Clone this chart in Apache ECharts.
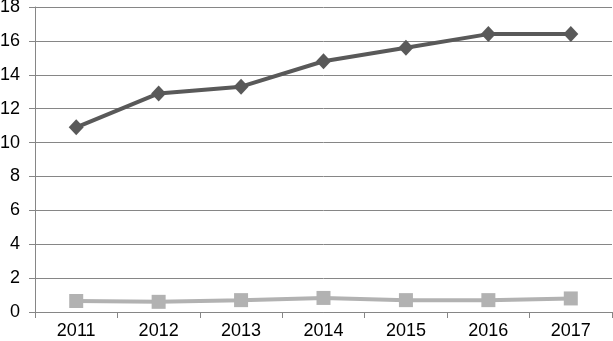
<!DOCTYPE html>
<html><head><meta charset="utf-8">
<script src="https://cdn.jsdelivr.net/npm/echarts@6/dist/echarts.min.js"></script>
<style>html,body{margin:0;padding:0;background:#fff}#c{width:613px;height:341px}</style>
</head><body><div id="c"></div>
<script>
var categories = ['2011','2012','2013','2014','2015','2016','2017'];
var seriesA = [10.9, 12.9, 13.3, 14.8, 15.6, 16.4, 16.4];
var seriesB = [0.65, 0.6, 0.7, 0.83, 0.7, 0.7, 0.8];
var yTicks = {min: 0, max: 18, interval: 2};

var chart = echarts.init(document.getElementById('c'), null, {renderer: 'canvas'});
chart.setOption({
  animation: false,
  backgroundColor: '#fff',
  grid: {left: 35, right: 1, top: 7, bottom: 29, containLabel: false, outerBoundsMode: 'none'},
  xAxis: {
    type: 'category', data: categories, boundaryGap: true,
    axisLine: {lineStyle: {color: '#868686', width: 1}},
    axisTick: {show: true, length: 6, lineStyle: {color: '#868686'}},
    axisLabel: {color: '#000', fontFamily: 'Liberation Sans, Arial', fontSize: 18, margin: 10},
    splitLine: {show: false}
  },
  yAxis: {
    type: 'value', min: yTicks.min, max: yTicks.max, interval: yTicks.interval,
    axisLine: {show: true, lineStyle: {color: '#868686', width: 1}},
    axisTick: {show: true, length: 6, lineStyle: {color: '#868686'}},
    axisLabel: {color: '#000', fontFamily: 'Liberation Sans, Arial', fontSize: 18, margin: 15},
    splitLine: {show: true, lineStyle: {color: '#868686', width: 1}}
  },
  series: [
    {type: 'line', data: seriesA, symbol: 'diamond', symbolSize: [15, 16],
     lineStyle: {color: '#595959', width: 4}, itemStyle: {color: '#595959'}},
    {type: 'line', data: seriesB, symbol: 'rect', symbolSize: 14,
     lineStyle: {color: '#b2b2b2', width: 4}, itemStyle: {color: '#b2b2b2'}}
  ]
});
</script></body></html>
